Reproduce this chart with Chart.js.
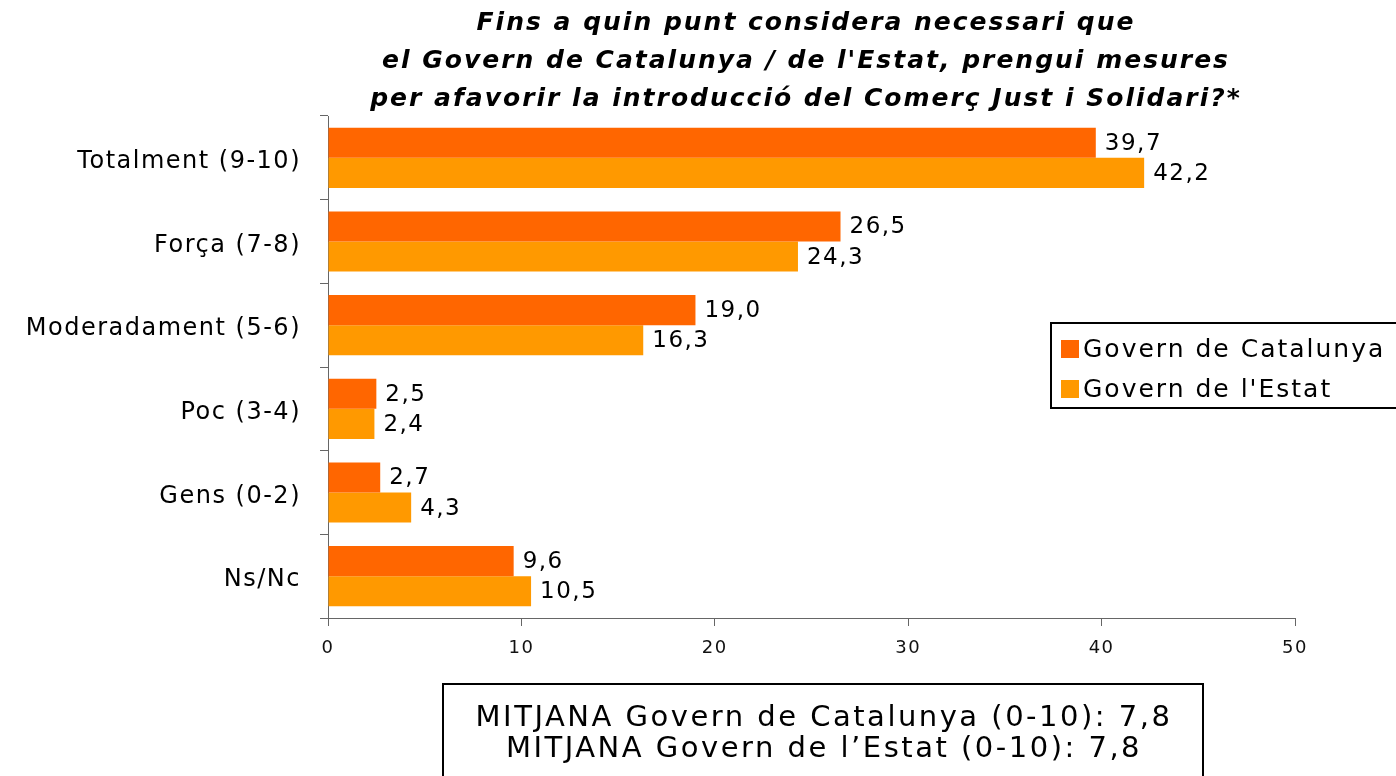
<!DOCTYPE html>
<html>
<head>
<meta charset="utf-8">
<script src="https://cdn.jsdelivr.net/npm/chart.js@4/dist/chart.umd.min.js"></script>
<style>
  html, body { margin: 0; padding: 0; background: #fff; }
  #wrap { width: 1396px; height: 776px; position: relative; }
</style>
</head>
<body>
<div id="wrap"><canvas id="chart" width="1396" height="776"></canvas></div>
<script>
// categories and values
const categories = ['Totalment (9-10)', 'Força (7-8)', 'Moderadament (5-6)', 'Poc (3-4)', 'Gens (0-2)', 'Ns/Nc'];
const catalunya = [39.7, 26.5, 19.0, 2.5, 2.7, 9.6];
const estat = [42.2, 24.3, 16.3, 2.4, 4.3, 10.5];
const seriesNames = ['Govern de Catalunya', "Govern de l'Estat"];
const seriesColors = ['#FF6600', '#FF9900'];
const xTicks = [0, 10, 20, 30, 40, 50];

const titleLines = [
    'Fins a quin punt considera necessari que',
    "el Govern de Catalunya / de l'Estat, prengui mesures",
    'per afavorir la introducció del Comerç Just i Solidari?*'
];
const noteLines = [
    'MITJANA Govern de Catalunya (0-10): 7,8',
    'MITJANA Govern de l\u2019Estat (0-10): 7,8'
];

const fmt = v => v.toFixed(1).replace('.', ',');

// the reference text is set quite loose, so space the letters a bit everywhere
const spacing = {
    id: 'spacing',
    beforeDraw(chart) { chart.ctx.letterSpacing = '1.5px'; }
};

// title, value labels, legend box and the note box at the bottom
const extras = {
    id: 'extras',
    afterDatasetsDraw(chart) {
        const ctx = chart.ctx;
        ctx.save();
        ctx.fillStyle = '#000';
        ctx.font = '23px "DejaVu Sans"';
        ctx.textAlign = 'left';
        ctx.textBaseline = 'middle';
        ctx.letterSpacing = '1.5px';
        chart.data.datasets.forEach((ds, i) => {
            chart.getDatasetMeta(i).data.forEach((bar, j) => {
                ctx.fillText(fmt(ds.data[j]), bar.x + 9, bar.y + 1);
            });
        });
        ctx.restore();
    },
    afterDraw(chart) {
        const ctx = chart.ctx;
        ctx.save();
        ctx.fillStyle = '#000';

        // title
        ctx.font = 'italic bold 25px "DejaVu Sans"';
        ctx.letterSpacing = '2px';
        ctx.textAlign = 'center';
        ctx.textBaseline = 'middle';
        titleLines.forEach((t, i) => ctx.fillText(t, 806, 23 + i * 38));

        // legend
        ctx.lineWidth = 2;
        ctx.strokeStyle = '#000';
        ctx.strokeRect(1051, 323, 360, 85);
        ctx.font = '25px "DejaVu Sans"';
        ctx.textAlign = 'left';
        ctx.letterSpacing = '2px';
        chart.data.datasets.forEach((ds, i) => {
            const y = 349 + i * 40;
            ctx.fillStyle = ds.backgroundColor;
            ctx.fillRect(1061, y - 9, 18, 18);
            ctx.fillStyle = '#000';
            ctx.fillText(ds.label, 1083, y + 1);
        });

        // note box
        ctx.strokeRect(443, 684, 760, 110);
        ctx.font = '29px "DejaVu Sans"';
        ctx.letterSpacing = '2.5px';
        ctx.textAlign = 'center';
        noteLines.forEach((t, i) => ctx.fillText(t, 824, 718 + i * 31));
        ctx.restore();
    }
};

new Chart(document.getElementById('chart'), {
    type: 'bar',
    data: {
        labels: categories,
        datasets: [
            { label: seriesNames[0], data: catalunya, backgroundColor: seriesColors[0] },
            { label: seriesNames[1], data: estat, backgroundColor: seriesColors[1] }
        ]
    },
    options: {
        indexAxis: 'y',
        responsive: false,
        animation: false,
        devicePixelRatio: 1,
        layout: { padding: { top: 116, right: 101, bottom: 108, left: 0 } },
        datasets: { bar: { categoryPercentage: 0.72, barPercentage: 1 } },
        plugins: {
            legend: { display: false },
            title: { display: false },
            tooltip: { enabled: false }
        },
        scales: {
            x: {
                min: 0,
                max: 50,
                afterBuildTicks(scale) { scale.ticks = xTicks.map(v => ({ value: v })); },
                afterFit(scale) { scale.height = 50; },
                grid: { drawOnChartArea: false, drawTicks: true, tickLength: 8, color: '#666' },
                border: { color: '#666', width: 1 },
                ticks: { color: '#111', font: { family: 'DejaVu Sans', size: 18 }, padding: 12 }
            },
            y: {
                afterFit(scale) { scale.width = 328; },
                grid: { drawOnChartArea: false, drawTicks: true, tickLength: 8, color: '#666', offset: true },
                border: { color: '#666', width: 1 },
                ticks: { color: '#000', font: { family: 'DejaVu Sans', size: 24 }, padding: 19, labelOffset: 4 }
            }
        }
    },
    plugins: [spacing, extras]
});
</script>
</body>
</html>
